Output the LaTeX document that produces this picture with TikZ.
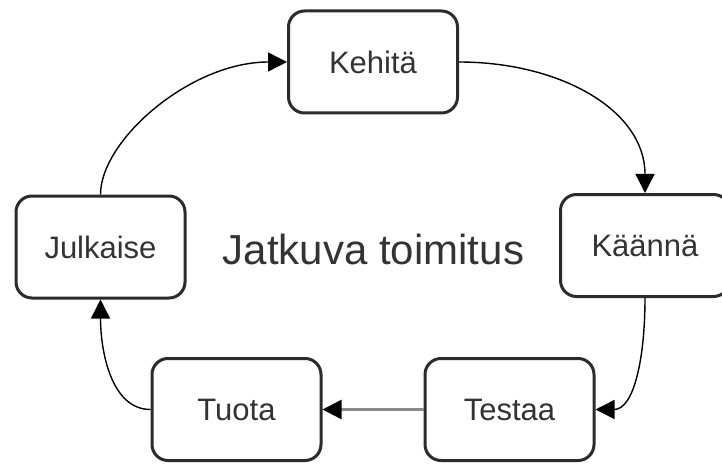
\documentclass[tikz,border=0pt]{standalone}
\usepackage{fontspec}
\setmainfont{Liberation Sans}
\usetikzlibrary{arrows.meta}
\definecolor{edge}{HTML}{2B2B2B}
\definecolor{ink}{HTML}{333333}
\definecolor{faint}{HTML}{8A8A8A}
\begin{document}
\begin{tikzpicture}[x=1pt, y=-1pt,
  stage/.style={draw=edge, line width=3pt, rounded corners=16pt, fill=white,
    minimum width=169pt, minimum height=102pt, inner sep=0pt,
    text=ink, font=\fontsize{31}{36}\selectfont},
  flow/.style={line width=1.4pt, draw=black,
    -{Triangle[length=19pt, width=19pt, color=black]}},
]
\useasboundingbox (0,0) rectangle (722,465);

% process stages around the loop
\node[stage] (keh) at (373,62)    {Kehitä};
\node[stage] (kaa) at (645,245.5) {Käännä};
\node[stage] (tes) at (509.5,409.5) {Testaa};
\node[stage] (tuo) at (236.5,409.5) {Tuota};
\node[stage] (jul) at (100.5,247) {Julkaise};

% caption in the middle
\node[text=ink, font=\fontsize{42}{48}\selectfont] (title) at (373.5,249) {Jatkuva toimitus};

% connectors
\draw[flow] (keh.east) .. controls +(101,0) and +(0,-83) .. (kaa.north);
\draw[flow] (kaa.south) .. controls +(0,62) and +(38,0) .. (tes.east);
\draw[flow, draw=faint, line width=2.4pt] (tes.west) -- (tuo.east);
\draw[flow] (tuo.west) .. controls +(-40,0) and +(0,50) .. (jul.south);
\draw[flow] (jul.north) .. controls +(0,-54) and +(-97,0) .. (keh.west);
\end{tikzpicture}
\end{document}
